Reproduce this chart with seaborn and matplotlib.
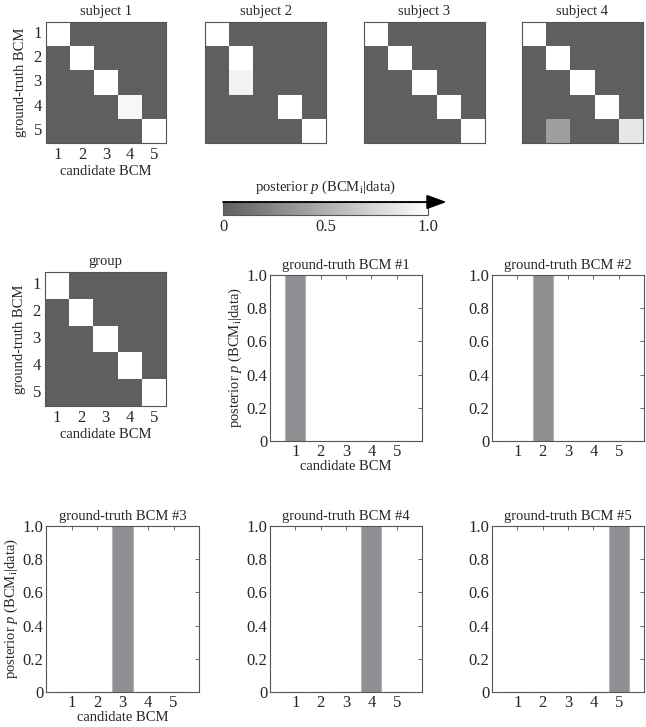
import numpy as np
import pandas as pd
import matplotlib
matplotlib.use("Agg")
import matplotlib.pyplot as plt
import seaborn as sns
from matplotlib.colors import LinearSegmentedColormap
from matplotlib.cm import ScalarMappable
from matplotlib.colors import Normalize

# candidate / ground-truth model labels
models = [1, 2, 3, 4, 5]

# posterior p(BCM_i | data) per subject: rows = ground truth, cols = candidate
subject1 = [[1, 0, 0, 0, 0],
            [0, 1, 0, 0, 0],
            [0, 0, 1, 0, 0],
            [0, 0, 0, 0.95, 0],
            [0, 0, 0, 0, 1]]
subject2 = [[1, 0, 0, 0, 0],
            [0, 1, 0, 0, 0],
            [0, 0.92, 0, 0, 0],
            [0, 0, 0, 1, 0],
            [0, 0, 0, 0, 1]]
subject3 = [[1, 0, 0, 0, 0],
            [0, 1, 0, 0, 0],
            [0, 0, 1, 0, 0],
            [0, 0, 0, 1, 0],
            [0, 0, 0, 0, 1]]
subject4 = [[1, 0, 0, 0, 0],
            [0, 1, 0, 0, 0],
            [0, 0, 1, 0, 0],
            [0, 0, 0, 1, 0],
            [0, 0.40, 0, 0, 0.85]]
group = [[1, 0, 0, 0, 0],
         [0, 1, 0, 0, 0],
         [0, 0, 1, 0, 0],
         [0, 0, 0, 1, 0],
         [0, 0, 0, 0, 1]]

# group posterior for each ground-truth model
gt1 = [1.0, 0, 0, 0, 0]
gt2 = [0, 1.0, 0, 0, 0]
gt3 = [0, 0, 1.0, 0, 0]
gt4 = [0, 0, 0, 1.0, 0]
gt5 = [0, 0, 0, 0, 1.0]

sns.set_style("white")
plt.rcParams["font.family"] = ["Liberation Serif", "DejaVu Serif"]
plt.rcParams["mathtext.fontset"] = "custom"
plt.rcParams["mathtext.rm"] = "Liberation Serif"
plt.rcParams["mathtext.it"] = "Liberation Serif:italic"

W, H = 646, 727
fig = plt.figure(figsize=(W / 100, H / 100), dpi=100)

cmap = LinearSegmentedColormap.from_list("post", ["#5e5f61", "#ffffff"])
edge = "#555555"
fs = 10.5
tfs = 12
ylab = r"posterior $p$ (BCM$_{\rm i}$|data)"


def px(x, y, w, h):
    return [x / W, 1 - (y + h) / H, w / W, h / H]


def draw_matrix(rect, mat, title, labels):
    ax = fig.add_axes(px(*rect))
    df = pd.DataFrame(mat, index=models, columns=models)
    sns.heatmap(df, ax=ax, cmap=cmap, vmin=0, vmax=1, cbar=False,
                xticklabels=labels, yticklabels=labels)
    ax.set_title(title, fontsize=fs, pad=5)
    ax.tick_params(length=0, labelsize=tfs, pad=3)
    if labels:
        ax.set_yticklabels(ax.get_yticklabels(), rotation=0)
        ax.set_xlabel("candidate BCM", fontsize=fs, labelpad=1)
        ax.set_ylabel("ground-truth BCM", fontsize=fs, labelpad=5)
    for s in ax.spines.values():
        s.set_visible(True)
        s.set_color(edge)
        s.set_linewidth(0.8)
    return ax


draw_matrix((46, 22, 120, 121), subject1, "subject 1", True)
draw_matrix((205, 22, 121, 121), subject2, "subject 2", False)
draw_matrix((364, 22, 121, 121), subject3, "subject 3", False)
draw_matrix((522, 22, 121, 121), subject4, "subject 4", False)
draw_matrix((45, 272, 121, 134), group, "group", True)

# colour scale with arrow
cax = fig.add_axes(px(223, 202, 205, 13))
cb = fig.colorbar(ScalarMappable(norm=Normalize(0, 1), cmap=cmap), cax=cax,
                  orientation="horizontal")
cb.set_ticks([0, 0.5, 1.0])
cb.set_ticklabels(["0", "0.5", "1.0"])
cax.tick_params(length=0, labelsize=tfs, pad=3)
cb.outline.set_edgecolor(edge)
cb.outline.set_linewidth(0.8)
cax.set_title(ylab, fontsize=fs, pad=8)
cax.annotate("", xy=(1.09, 1), xytext=(0, 1), xycoords="axes fraction",
             arrowprops=dict(arrowstyle="-|>,head_length=0.6,head_width=0.22",
                             color="black", lw=1.3, mutation_scale=20,
                             shrinkA=0, shrinkB=0),
             annotation_clip=False)


def draw_bars(rect, vals, title, labels):
    ax = fig.add_axes(px(*rect))
    sns.barplot(x=models, y=vals, ax=ax, native_scale=True, width=0.8,
                color="#909094", edgecolor="#b4b4b6", linewidth=0.8,
                saturation=1)
    ax.set_xlim(0, 6)
    ax.set_ylim(0, 1)
    ax.set_xticks(models)
    ax.set_xticklabels([str(m) for m in models])
    ax.set_yticks([0, 0.2, 0.4, 0.6, 0.8, 1.0])
    ax.set_yticklabels(["0", "0.2", "0.4", "0.6", "0.8", "1.0"])
    ax.tick_params(direction="in", length=3, width=0.6, color=edge,
                   top=True, right=True, labelsize=tfs, pad=2)
    for s in ax.spines.values():
        s.set_visible(True)
        s.set_color(edge)
        s.set_linewidth(0.8)
    ax.set_title(title, fontsize=fs, pad=4)
    if labels:
        ax.set_xlabel("candidate BCM", fontsize=fs, labelpad=0)
        ax.set_ylabel(ylab, fontsize=fs, labelpad=2)
    else:
        ax.set_xlabel("")
        ax.set_ylabel("")
    return ax


draw_bars((270, 275, 152, 166), gt1, "ground-truth BCM #1", True)
draw_bars((492, 275, 152, 166), gt2, "ground-truth BCM #2", False)
draw_bars((46, 526, 153, 166), gt3, "ground-truth BCM #3", True)
draw_bars((270, 526, 152, 166), gt4, "ground-truth BCM #4", False)
draw_bars((492, 526, 152, 166), gt5, "ground-truth BCM #5", False)

fig.savefig("out.png", dpi=100)
